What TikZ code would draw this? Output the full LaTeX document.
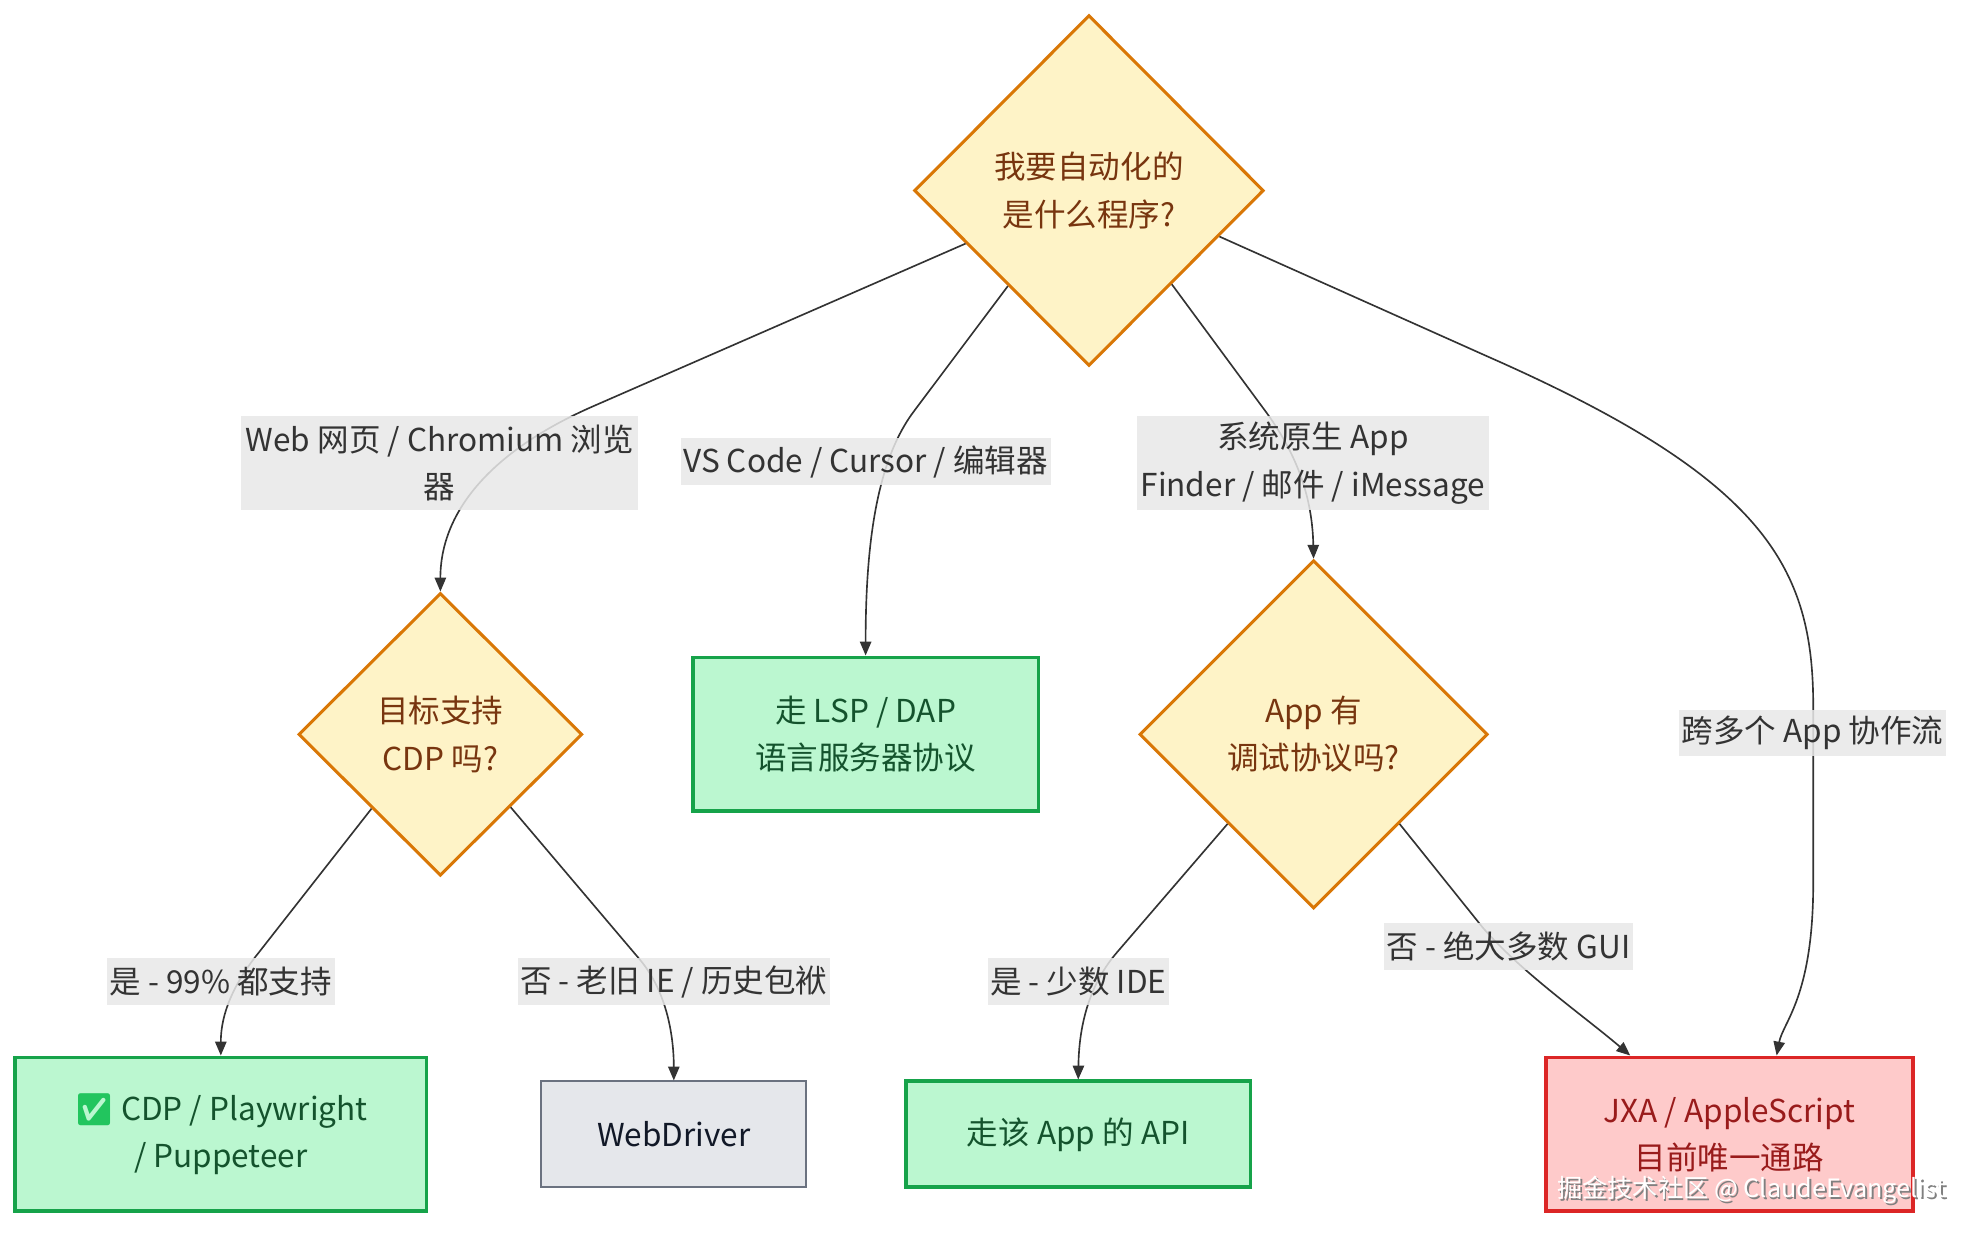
\documentclass[tikz,border=0pt]{standalone}
\usepackage{fontspec}
\setmainfont{Noto Sans CJK SC}
\newfontfamily\emojifont{Noto Emoji}
\usetikzlibrary{shapes.geometric,arrows.meta,calc}

\definecolor{decfill}{HTML}{FEF3C7}
\definecolor{decline}{HTML}{D97706}
\definecolor{dectext}{HTML}{78350F}
\definecolor{okfill}{HTML}{BBF7D0}
\definecolor{okline}{HTML}{16A34A}
\definecolor{oktext}{HTML}{14532D}
\definecolor{grayfill}{HTML}{E5E7EB}
\definecolor{grayline}{HTML}{6B7280}
\definecolor{graytext}{HTML}{111827}
\definecolor{badfill}{HTML}{FECACA}
\definecolor{badline}{HTML}{DC2626}
\definecolor{badtext}{HTML}{991B1B}
\definecolor{edgecol}{HTML}{333333}
\definecolor{lblfill}{HTML}{E8E8E8}
\definecolor{checkgreen}{HTML}{22C55E}

\tikzset{
  decision/.style={diamond, draw=decline, fill=decfill, text=dectext, line width=2.4pt, inner sep=0pt, align=center},
  okbox/.style={rectangle, draw=okline, fill=okfill, text=oktext, line width=3pt, inner sep=0pt, align=center},
  graybox/.style={rectangle, draw=grayline, fill=grayfill, text=graytext, line width=1.5pt, inner sep=0pt, align=center},
  badbox/.style={rectangle, draw=badline, fill=badfill, text=badtext, line width=3pt, inner sep=0pt, align=center},
  flow/.style={draw=edgecol, line width=1.3pt, -{Triangle[length=11pt,width=9pt]}},
  elabel/.style={fill=lblfill, fill opacity=0.85, text opacity=1, text=edgecol, inner xsep=2pt, inner ysep=0pt, minimum height=37pt, align=center},
}

\begin{document}
\begin{tikzpicture}[x=1pt, y=-1pt, every node/.style={font=\fontsize{25}{37.5}\selectfont}]
  \fill[white] (0,0) rectangle (1566,979.5);
  \useasboundingbox (0,0) rectangle (1566,979.5);

  % decisions
  \node[decision, minimum width=277pt, minimum height=278pt] (q1) at (863,151) {我要自动化的\\是什么程序?};
  \node[decision, minimum width=225pt, minimum height=224pt] (q2) at (349,582) {目标支持\\CDP 吗?};
  \node[decision, minimum width=276pt, minimum height=276pt] (q3) at (1041,582) {App 有\\调试协议吗?};

  % outcomes
  \node[okbox, minimum width=274pt, minimum height=122pt] (lsp) at (686,582) {走 LSP / DAP\\语言服务器协议};
  \node[okbox, minimum width=326pt, minimum height=122pt] (cdp) at (175,899) {{\emojifont\textcolor{checkgreen}{✅}} CDP / Playwright\\/ Puppeteer};
  \node[graybox, minimum width=210pt, minimum height=84pt] (wd) at (534,899) {WebDriver};
  \node[okbox, minimum width=273pt, minimum height=84pt] (api) at (854.5,899) {走该 App 的 API};
  \node[badbox, minimum width=291pt, minimum height=122pt] (jxa) at (1370.5,899) {JXA / AppleScript\\目前唯一通路};

  % connectors
  \draw[flow] ($(q1.west)!0.3!(q1.south)$) -- (470,322) .. controls (390,357) and (349,405) .. (q2.north);
  \draw[flow] ($(q1.west)!0.54!(q1.south)$) -- (725,325) .. controls (695,364) and (686,430) .. (lsp.north);
  \draw[flow] ($(q1.south)!0.47!(q1.east)$) -- (1000,322) .. controls (1025,355) and (1040,390) .. (q3.north);
  \draw[flow] ($(q1.east)!0.26!(q1.south)$) -- (1180,283) .. controls (1400,380) and (1437,450) .. (1437,560) -- (1437,700) .. controls (1437,790) and (1413,810) .. ([xshift=37.5pt]jxa.north);
  \draw[flow] ($(q2.west)!0.52!(q2.south)$) -- (205,755) .. controls (180,786) and (175,810) .. (cdp.north);
  \draw[flow] ($(q2.south)!0.49!(q2.east)$) -- (505,758) .. controls (530,786) and (534,825) .. (wd.north);
  \draw[flow] ($(q3.west)!0.51!(q3.south)$) -- (885,755) .. controls (860,784) and (855,820) .. (api.north);
  \draw[flow] ($(q3.south)!0.49!(q3.east)$) -- (1175,735) .. controls (1205,770) and (1255,805) .. ([xshift=-78.5pt]jxa.north);

  % edge labels
  \node[elabel, minimum width=315pt, minimum height=74pt] (lweb) at (348.5,367) {Web 网页 / Chromium 浏览\\器};
  \node[elabel] (lvs) at (686,366) {VS Code / Cursor / 编辑器};
  \node[elabel, minimum width=279pt, minimum height=74pt] (lsys) at (1040.5,367) {系统原生 App\\Finder / 邮件 / iMessage};
  \node[elabel] (lmulti) at (1436.5,581) {跨多个 App 协作流};
  \node[elabel] (lyes1) at (175,778) {是 - 99\% 都支持};
  \node[elabel] (lno1) at (534,778) {否 - 老旧 IE / 历史包袱};
  \node[elabel] (lyes2) at (854.5,778) {是 - 少数 IDE};
  \node[elabel] (lno2) at (1195.5,750) {否 - 绝大多数 GUI};

  % watermark
  \node[text=black!50, font=\fontsize{20}{24}\selectfont] (wmshadow) at (1389.5,944.5) {掘金技术社区 @ ClaudeEvangelist};
  \node[text=white, font=\fontsize{20}{24}\selectfont] (wm) at (1388,943) {掘金技术社区 @ ClaudeEvangelist};
\end{tikzpicture}
\end{document}
